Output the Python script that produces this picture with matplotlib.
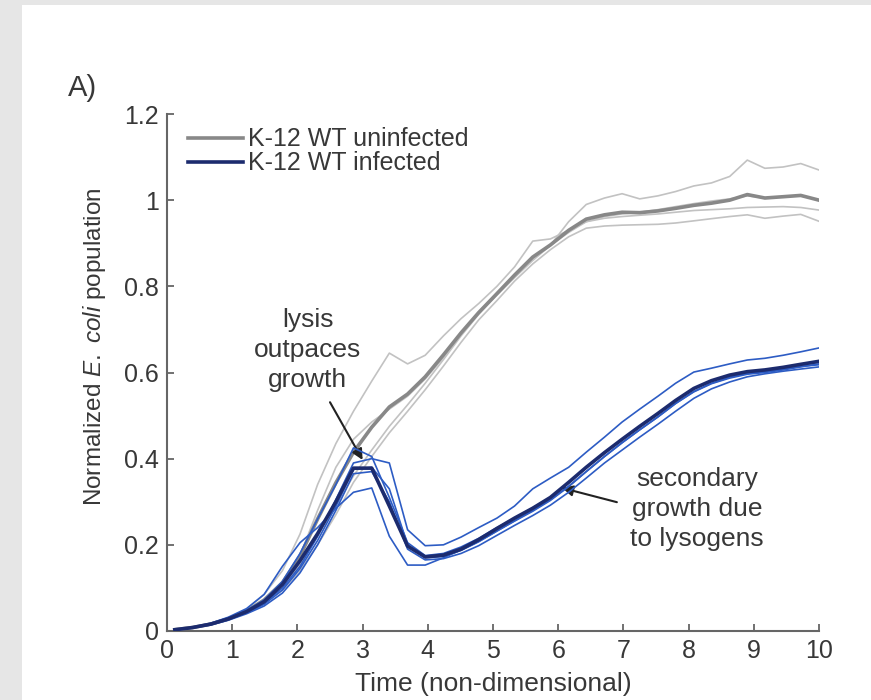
import matplotlib.pyplot as plt
from matplotlib.patches import Rectangle

plt.rcParams['font.family'] = ['Liberation Sans', 'DejaVu Sans']
plt.rcParams['mathtext.fontset'] = 'custom'
plt.rcParams['mathtext.rm'] = 'Liberation Sans'
plt.rcParams['mathtext.it'] = 'Liberation Sans:italic'

# sample times (non-dimensional)
t = [0.12, 0.39, 0.67, 0.94, 1.22, 1.49, 1.77, 2.04, 2.31, 2.59, 2.86, 3.14,
     3.41, 3.69, 3.96, 4.24, 4.51, 4.78, 5.06, 5.33, 5.61, 5.88, 6.16, 6.43,
     6.71, 6.98, 7.25, 7.53, 7.80, 8.08, 8.35, 8.63, 8.90, 9.17, 9.45, 9.72, 10.0]

# uninfected replicates
unf_1 = [0.003, 0.008, 0.017, 0.030, 0.050, 0.085, 0.140, 0.225, 0.340, 0.435, 0.510, 0.580,
         0.645, 0.620, 0.640, 0.685, 0.725, 0.760, 0.800, 0.845, 0.905, 0.910, 0.930, 0.950,
         0.958, 0.962, 0.965, 0.968, 0.972, 0.976, 0.978, 0.980, 0.983, 0.984, 0.985, 0.983, 0.977]
unf_2 = [0.003, 0.008, 0.016, 0.028, 0.045, 0.070, 0.110, 0.175, 0.280, 0.380, 0.445, 0.485,
         0.515, 0.545, 0.585, 0.635, 0.690, 0.740, 0.785, 0.825, 0.865, 0.895, 0.950, 0.990,
         1.005, 1.015, 1.003, 1.010, 1.020, 1.033, 1.040, 1.055, 1.093, 1.074, 1.077, 1.085, 1.070]
unf_3 = [0.002, 0.007, 0.015, 0.026, 0.042, 0.063, 0.095, 0.140, 0.200, 0.270, 0.345, 0.405,
         0.460, 0.510, 0.560, 0.615, 0.670, 0.722, 0.767, 0.812, 0.852, 0.885, 0.915, 0.935,
         0.940, 0.942, 0.943, 0.944, 0.947, 0.952, 0.957, 0.962, 0.966, 0.958, 0.963, 0.967, 0.951]
unf_4 = [0.003, 0.008, 0.016, 0.028, 0.046, 0.070, 0.105, 0.155, 0.220, 0.290, 0.360, 0.420,
         0.475, 0.525, 0.575, 0.630, 0.685, 0.735, 0.780, 0.820, 0.860, 0.895, 0.925, 0.950,
         0.962, 0.968, 0.972, 0.978, 0.985, 0.992, 0.998, 1.003, 1.010, 1.005, 1.008, 1.010, 1.000]
unf_mean = [0.003, 0.008, 0.016, 0.028, 0.046, 0.072, 0.112, 0.174, 0.260, 0.344, 0.415, 0.473,
            0.520, 0.550, 0.590, 0.641, 0.692, 0.739, 0.783, 0.826, 0.868, 0.896, 0.930, 0.956,
            0.966, 0.972, 0.971, 0.975, 0.981, 0.988, 0.993, 1.000, 1.013, 1.005, 1.008, 1.011, 1.000]

# infected replicates
inf_1 = [0.003, 0.008, 0.017, 0.030, 0.048, 0.072, 0.115, 0.180, 0.260, 0.340, 0.425, 0.405,
         0.310, 0.205, 0.175, 0.180, 0.195, 0.215, 0.240, 0.262, 0.286, 0.310, 0.345, 0.380,
         0.415, 0.445, 0.475, 0.505, 0.535, 0.563, 0.580, 0.592, 0.600, 0.604, 0.610, 0.617, 0.624]
inf_2 = [0.003, 0.008, 0.016, 0.028, 0.044, 0.065, 0.100, 0.150, 0.220, 0.305, 0.390, 0.400,
         0.390, 0.235, 0.198, 0.200, 0.218, 0.240, 0.262, 0.290, 0.330, 0.355, 0.380, 0.415,
         0.450, 0.485, 0.515, 0.545, 0.575, 0.601, 0.610, 0.620, 0.629, 0.633, 0.640, 0.648, 0.657]
inf_3 = [0.003, 0.008, 0.015, 0.027, 0.042, 0.062, 0.095, 0.145, 0.210, 0.290, 0.375, 0.380,
         0.330, 0.200, 0.170, 0.173, 0.187, 0.207, 0.232, 0.255, 0.278, 0.303, 0.335, 0.370,
         0.405, 0.437, 0.467, 0.497, 0.528, 0.555, 0.574, 0.587, 0.596, 0.600, 0.606, 0.613, 0.620]
inf_4 = [0.002, 0.007, 0.014, 0.025, 0.040, 0.058, 0.088, 0.135, 0.200, 0.280, 0.365, 0.370,
         0.300, 0.190, 0.165, 0.168, 0.180, 0.198, 0.222, 0.245, 0.268, 0.292, 0.322, 0.355,
         0.390, 0.420, 0.450, 0.480, 0.510, 0.540, 0.562, 0.578, 0.590, 0.597, 0.603, 0.608, 0.613]
inf_5 = [0.003, 0.009, 0.018, 0.032, 0.052, 0.085, 0.150, 0.205, 0.240, 0.285, 0.322, 0.332,
         0.220, 0.153, 0.153, 0.170, 0.188, 0.208, 0.232, 0.256, 0.280, 0.305, 0.336, 0.370,
         0.405, 0.437, 0.467, 0.497, 0.528, 0.556, 0.575, 0.589, 0.598, 0.602, 0.608, 0.614, 0.618]
inf_mean = [0.003, 0.008, 0.016, 0.028, 0.045, 0.068, 0.108, 0.163, 0.226, 0.300, 0.378, 0.378,
            0.290, 0.197, 0.172, 0.176, 0.190, 0.212, 0.238, 0.262, 0.285, 0.310, 0.345, 0.380,
            0.414, 0.445, 0.475, 0.505, 0.535, 0.563, 0.581, 0.594, 0.602, 0.606, 0.612, 0.619, 0.626]

GRAY_THIN = '#c2c2c2'
GRAY_MEAN = '#888888'
BLUE_THIN = '#2d5cc4'
BLUE_MEAN = '#1c2b6e'
TXT = '#383838'

fig = plt.figure(figsize=(8.71, 7.0), dpi=100, facecolor='#e6e6e6')
fig.patches.append(Rectangle((22 / 871, 0), 1, 1 - 5 / 700, transform=fig.transFigure,
                             facecolor='white', edgecolor='none', zorder=-10))
ax = fig.add_axes([167 / 871, 1 - 631 / 700, (819 - 167) / 871, (631 - 114) / 700])
ax.set_facecolor('none')

for y in [unf_1, unf_2, unf_3, unf_4]:
    ax.plot(t, y, color=GRAY_THIN, lw=1.2, zorder=2)
ax.plot(t, unf_mean, color=GRAY_MEAN, lw=2.6, zorder=3, label='K-12 WT uninfected')
for y in [inf_1, inf_2, inf_3, inf_4, inf_5]:
    ax.plot(t, y, color=BLUE_THIN, lw=1.2, zorder=4)
ax.plot(t, inf_mean, color=BLUE_MEAN, lw=2.6, zorder=5, label='K-12 WT infected')

ax.set_xlim(0, 10)
ax.set_ylim(0, 1.2)
ax.set_xticks(range(0, 11))
ax.set_yticks([0, 0.2, 0.4, 0.6, 0.8, 1.0, 1.2])
ax.set_yticklabels(['0', '0.2', '0.4', '0.6', '0.8', '1', '1.2'])
for s in ['top', 'right']:
    ax.spines[s].set_visible(False)
for s in ['left', 'bottom']:
    ax.spines[s].set_color('#666666')
    ax.spines[s].set_linewidth(1.5)
ax.tick_params(direction='in', length=5, width=1.3, color='#666666',
               labelsize=18, labelcolor=TXT, pad=6)

ax.set_xlabel('Time (non-dimensional)', fontsize=19, color=TXT, labelpad=6)
ax.set_ylabel(r'Normalized $\mathit{E.\ coli}$ population', fontsize=17.5, color=TXT)
ax.yaxis.set_label_coords(-0.09, 0.55)

leg = ax.legend(loc='upper left', bbox_to_anchor=(0.005, 1.008), frameon=False, fontsize=18,
                handlelength=2.2, handletextpad=0.2, labelspacing=0.0, borderpad=0.2)
for txt in leg.get_texts():
    txt.set_color(TXT)

# annotations
ax.text(2.16, 0.652, 'lysis\noutpaces\ngrowth', ha='center', va='center',
        fontsize=19, color=TXT, linespacing=1.3)
ax.annotate('', xy=(3.0, 0.397), xytext=(2.50, 0.531),
            arrowprops=dict(arrowstyle='-|>', color='#222222', lw=1.5,
                            mutation_scale=16, shrinkA=0, shrinkB=0))
ax.text(8.13, 0.283, 'secondary\ngrowth due\nto lysogens', ha='center', va='center',
        fontsize=19, color=TXT, linespacing=1.3)
ax.annotate('', xy=(6.06, 0.332), xytext=(6.90, 0.299),
            arrowprops=dict(arrowstyle='-|>', color='#222222', lw=1.5,
                            mutation_scale=16, shrinkA=0, shrinkB=0))

fig.text(68 / 871, 1 - 88 / 700, 'A)', fontsize=21, color=TXT, va='center', ha='left')

fig.savefig('out.png', dpi=100, facecolor=fig.get_facecolor())
